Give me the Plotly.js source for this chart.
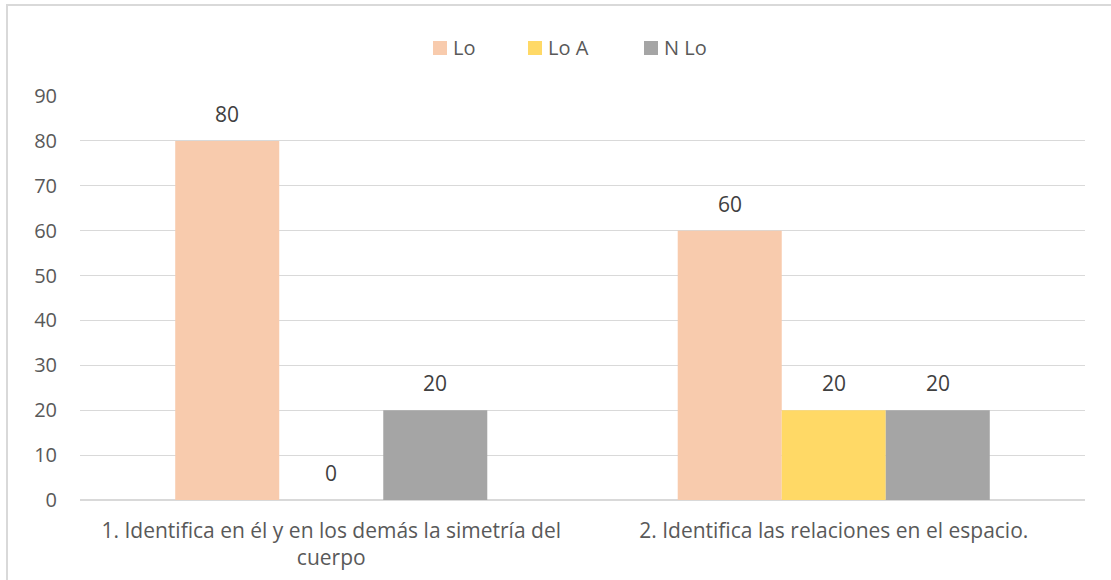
<!DOCTYPE html>
<html>
<head>
<meta charset="utf-8">
<script src="https://cdn.plot.ly/plotly-3.0.1.min.js"></script>
<style>
  html, body { margin: 0; padding: 0; background: #fff; }
  #wrap { position: relative; width: 1111px; height: 580px; overflow: hidden; }
  #chart { position: absolute; left: 0; top: 0; width: 1111px; height: 580px; }
  #frame { position: absolute; left: 6px; top: 4px; width: 1200px; height: 700px;
           border-left: 2px solid #d9d9d9; border-top: 2px solid #d9d9d9; pointer-events: none; }
</style>
</head>
<body>
<div id="wrap">
  <div id="chart"></div>
  <div id="frame"></div>
</div>
<script>
const categories = [
  "1. Identifica en él y en los demás la simetría del<br>cuerpo",
  "2. Identifica las relaciones en el espacio."
];
const seriesNames = ["Lo", "Lo A", "N Lo"];
const loValues = [80, 60];
const loAValues = [0, 20];
const nLoValues = [20, 20];
const colors = ["#f8cbad", "#ffd966", "#a5a5a5"];
const yTicks = [0, 10, 20, 30, 40, 50, 60, 70, 80, 90];

const seriesValues = [loValues, loAValues, nLoValues];
const FAM = "Open Sans, Noto Sans, sans-serif";
const bargap = 0.379;
const barW = (1 - bargap) / seriesNames.length;

// plot-area geometry (pixels) used to place the legend in paper coordinates
const W = 1111, H = 580;
const M = { l: 80, r: 26, t: 96, b: 80 };
const plotW = W - M.l - M.r, plotH = H - M.t - M.b;
const toPaperX = px => (px - M.l) / plotW;
const toPaperY = py => (H - M.b - py) / plotH;

const traces = seriesNames.map((name, i) => ({
  type: "bar",
  name: name,
  x: categories,
  y: seriesValues[i],
  marker: { color: colors[i], line: { width: 0 } },
  showlegend: false,
  hoverinfo: "x+y+name"
}));

// data labels above each bar, placed via the axis scales
const annotations = [];
seriesNames.forEach((name, i) => {
  seriesValues[i].forEach((v, j) => {
    annotations.push({
      xref: "x", yref: "y",
      x: j + (i - (seriesNames.length - 1) / 2) * barW,
      y: v,
      text: String(v),
      showarrow: false,
      xanchor: "center", yanchor: "bottom",
      yshift: 11,
      font: { family: FAM, size: 21, color: "#404040" }
    });
  });
});

// legend (top centre): colour square + label
const legendLeft = [433, 528, 644];
const legendMidY = 48;
const shapes = [];
seriesNames.forEach((name, i) => {
  shapes.push({
    type: "rect", xref: "paper", yref: "paper",
    xsizemode: "pixel", ysizemode: "pixel",
    xanchor: toPaperX(legendLeft[i]), yanchor: toPaperY(legendMidY),
    x0: 0, x1: 14, y0: -7, y1: 7,
    fillcolor: colors[i], line: { width: 0 }
  });
  annotations.push({
    xref: "paper", yref: "paper",
    x: toPaperX(legendLeft[i] + 18), y: toPaperY(legendMidY),
    xanchor: "left", yanchor: "middle",
    text: name, showarrow: false,
    font: { family: FAM, size: 20, color: "#595959" }
  });
});

const layout = {
  width: W,
  height: H,
  margin: M,
  paper_bgcolor: "#ffffff",
  plot_bgcolor: "#ffffff",
  font: { family: FAM, color: "#595959", size: 20 },
  barmode: "group",
  bargap: bargap,
  bargroupgap: 0,
  showlegend: false,
  annotations: annotations,
  shapes: shapes,
  xaxis: {
    type: "category",
    showgrid: false,
    showline: false,
    ticks: "",
    ticklabelstandoff: 16,
    tickfont: { family: FAM, size: 21, color: "#595959" },
    automargin: false
  },
  yaxis: {
    range: [0, 90],
    tickvals: yTicks,
    ticktext: yTicks.map(String),
    showgrid: true,
    gridcolor: "#d9d9d9",
    gridwidth: 1,
    zeroline: true,
    zerolinecolor: "#d9d9d9",
    zerolinewidth: 2,
    showline: false,
    ticks: "",
    ticklabelstandoff: 22,
    tickfont: { family: FAM, size: 20, color: "#595959" },
    automargin: false
  }
};

Plotly.newPlot("chart", traces, layout, { displayModeBar: false, staticPlot: true });
</script>
</body>
</html>
